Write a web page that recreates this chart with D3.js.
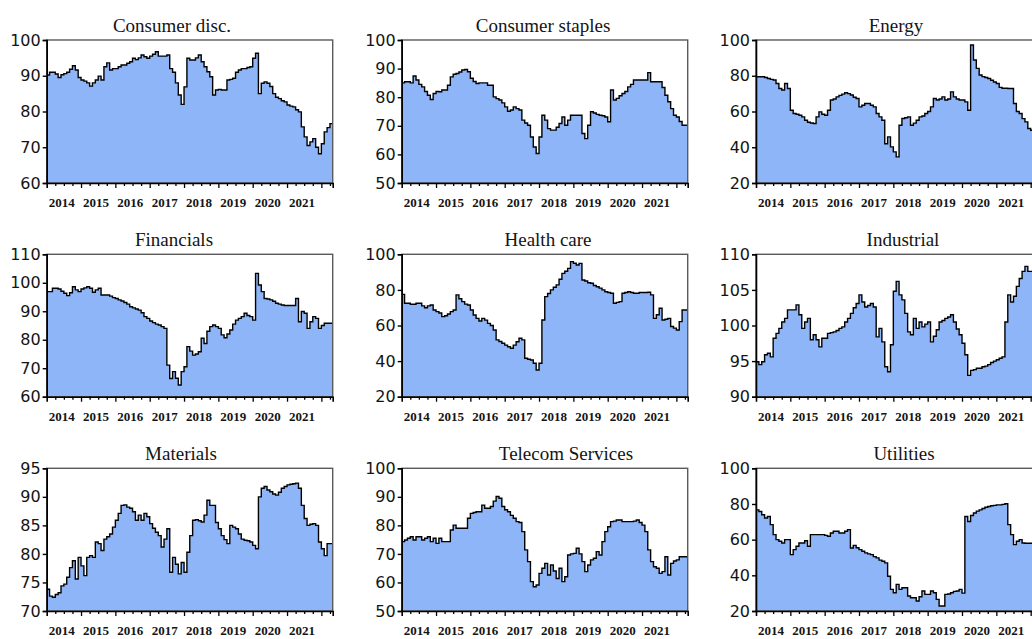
<!DOCTYPE html>
<html>
<head>
<meta charset="utf-8">
<script src="https://cdn.jsdelivr.net/npm/d3@7"></script>
<style>
  html, body { margin: 0; padding: 0; background: #fff; }
  svg { display: block; }
</style>
</head>
<body>
<svg id="chart" width="1032" height="639"></svg>
<script>
// Monthly observations, Jan 2014 through Apr 2022
const startYear = 2014;
const monthCount = 100;
const yearLabels = ["2014", "2015", "2016", "2017", "2018", "2019", "2020", "2021"];

const sectorNames = [
  "Consumer disc.", "Consumer staples", "Energy",
  "Financials", "Health care", "Industrial",
  "Materials", "Telecom Services", "Utilities"
];

const consumerDisc = [
  90.2, 91, 91, 90.5, 89.5, 90.3, 90.6, 91, 91.8, 92.8, 91.6, 89.5,
  88.8, 88.5, 88, 87.1, 88, 88.8, 89.9, 88.8, 92.5, 93.6, 91.6, 92,
  92, 92.5, 93, 93, 93.5, 93.9, 94.9, 94.5, 95, 95.8, 95.3, 94.9,
  95.5, 96, 96.7, 95.5, 95.5, 95.5, 95.8, 92, 91, 88, 84.6, 82,
  86.9, 94.9, 94.4, 94.4, 95, 95.8, 93.9, 92.5, 91.1, 89.7, 84.6, 86,
  86.2, 86, 86, 88.8, 89, 89.3, 91, 91.6, 92, 92, 92.3, 92.5,
  94.9, 96.3, 85, 87.9, 88.3, 87.9, 87, 85, 84, 83.6, 83, 82.7,
  81.8, 81.5, 81.3, 80.5, 79.9, 75.7, 72.9, 70.5, 71.5, 72.4, 70, 68.2,
  71, 74.3, 75.5, 76.6
];

const consumerStaples = [
  85, 85.4, 85.4, 85, 87.4, 86, 84.5, 83.6, 82, 80.7, 79.2, 81.3,
  82, 81.9, 82.5, 82.5, 84.2, 87.1, 88, 88.3, 88.8, 89.5, 89.7, 88.9,
  86.6, 85.5, 84.8, 85, 85, 85, 84.2, 84.2, 80.1, 79.5, 79, 78,
  76.6, 75.1, 75.5, 76.6, 76, 75.5, 72, 71, 70.2, 66.1, 62.6, 60.3,
  66.1, 73.7, 72, 69, 68.5, 68.5, 69.5, 70.8, 73.1, 70.2, 72, 73.7,
  73.7, 73.7, 73.7, 67.3, 65.5, 70.2, 74.9, 74.5, 74, 73.7, 73.5, 73.1,
  71.4, 82.5, 79, 79.6, 80.5, 81.3, 82, 83.6, 84.5, 86, 86, 86,
  86, 86, 88.6, 85.4, 85.4, 85.4, 85.4, 83.4, 80.7, 78.4, 76, 73.7,
  73.1, 71.5, 70.2, 70.2
];

const energy = [
  79.4, 79.4, 79.4, 79, 78.5, 78, 77.6, 75.7, 72.9, 72, 75.7, 72.9,
  60.7, 58.9, 58.5, 57.9, 57, 55.1, 54, 53.6, 53.3, 57, 59.8, 58.5,
  57.9, 60.7, 66.4, 67, 68.2, 69, 69.7, 70.5, 70, 69.2, 68, 67.3,
  62.6, 63.5, 64.5, 64.5, 63.5, 62.6, 58.9, 57, 55.1, 42, 45.8, 40.2,
  37.4, 34.6, 52.3, 56.1, 56.5, 57, 52.3, 53.5, 55.1, 57, 57.5, 58.9,
  60, 62.6, 67.3, 66.4, 67, 68.2, 66.4, 67, 71, 68.2, 67, 66.4,
  66.4, 65.4, 60.7, 97.2, 88.8, 84.1, 80.4, 79.5, 79, 78.5, 77.5, 76.5,
  75.7, 73.5, 73, 73, 72.9, 72.9, 64.5, 60, 58.9, 56, 54.2, 50.5,
  49.5, 51.8, 52, 52
];

const financials = [
  96.9, 96.9, 98.1, 98.1, 97.8, 97, 96.3, 95.5, 96.5, 98.6, 97.5, 96.9,
  97.8, 98.2, 98.6, 98.1, 96.7, 97.5, 98.1, 95.7, 95.7, 95.7, 95.3, 94.8,
  94.5, 94, 93.6, 93.1, 92.5, 91.6, 91.2, 90.8, 90.4, 89.5, 88.1, 87.5,
  86.6, 86, 85.5, 85.2, 84.6, 84, 71.1, 66.4, 68.8, 66.5, 64.1, 68.8,
  70.5, 77.6, 76, 74.6, 75, 75.8, 80.5, 78.7, 83, 84.6, 85.2, 84.6,
  84, 81.7, 80.7, 82, 83.4, 85.5, 86.9, 87.5, 88.1, 89.3, 88.5, 88.1,
  86.9, 103.3, 99.2, 96.9, 94.5, 94.3, 94, 93.5, 92.8, 92.5, 92.2, 92,
  92, 92, 92, 94.5, 86.3, 89.9, 89.3, 84, 86.3, 88.1, 87.5, 84,
  85, 85.8, 85.8, 85.8
];

const healthCare = [
  77.5, 72.5, 72.5, 71.9, 71.9, 72.5, 72.5, 71, 70, 71, 71.5, 68.7,
  67.8, 67, 65, 65.5, 66.5, 67.8, 68.7, 77.2, 75, 73.4, 72, 71.5,
  68.7, 65.9, 64, 62.5, 64, 63, 61.2, 60, 57.5, 51.9, 51, 50,
  49, 48.1, 47.2, 49, 50.9, 52.8, 51.9, 41.6, 41, 40.6, 38.8, 35,
  38.8, 63.1, 76.2, 78, 80, 81.5, 82.8, 86, 89.3, 90.5, 92.1, 95.9,
  95, 94, 94.9, 85.6, 85, 84, 83.7, 82.5, 81.8, 81, 80, 79,
  78.5, 78.1, 72.5, 73, 73.4, 78.1, 78.5, 79, 78.5, 78.1, 78.1, 78.5,
  78.5, 78.5, 78.7, 77.2, 64, 66, 69.7, 63.1, 63.5, 64, 59.4, 58.5,
  57.5, 62.2, 68.7, 68.7
];

const industrial = [
  94.9, 94.5, 94.9, 95.9, 96.1, 95.6, 98.2, 98.9, 99.6, 100.5, 101, 102.2,
  102.2, 102.2, 102.9, 101.5, 99.6, 100.5, 101, 98, 98.7, 98, 97, 98.2,
  98.2, 98.9, 99, 99.1, 99.3, 99.6, 99.8, 100.5, 101, 101.7, 102.5, 103.1,
  104.3, 103.3, 102.6, 102.8, 103.1, 102.6, 98.4, 99.6, 97.7, 94.2, 93.5, 97.3,
  104.8, 106.2, 104.3, 103.6, 101.7, 99.1, 98.7, 101, 99.6, 100.5, 99.8, 100.2,
  100.5, 97.7, 98.5, 99.4, 100.5, 100.7, 101, 101.2, 101.5, 100.5, 99.5, 98.7,
  97.5, 95.9, 93, 93.7, 93.8, 94, 94, 94.2, 94.3, 94.5, 94.8, 95,
  95.2, 95.4, 95.6, 100.5, 104.3, 103.3, 104.1, 105.5, 106.6, 107.6, 108.3, 107.6,
  107.6, 107, 107, 107
];

const materials = [
  73.8, 72.6, 72.4, 72.9, 73.2, 74.4, 74.7, 75.9, 77.6, 78.8, 75.6, 79.4,
  77.9, 76.2, 79.4, 79.7, 79.4, 82.1, 81.8, 80.6, 82.6, 83, 83.5, 84.7,
  85.9, 87.1, 88.5, 88.6, 88.2, 88, 87.4, 85.9, 86.8, 85.9, 87.1, 86.5,
  85.3, 84.5, 83.8, 83.2, 81.2, 82.6, 84.4, 76.8, 79.4, 78.2, 76.5, 78.5,
  76.8, 80.3, 83.2, 85.9, 86, 85.8, 85.6, 86.8, 89.4, 88.5, 88.5, 85.5,
  84.4, 83.2, 82.5, 81.8, 85, 84.7, 84.4, 83.5, 82.6, 82.4, 82.3, 82.1,
  81.5, 80.9, 90, 91.5, 91.8, 91.2, 90.9, 90.5, 90.3, 90.8, 91.5, 91.8,
  92.1, 92.2, 92.3, 92.4, 91.5, 88.5, 86.2, 85, 85.2, 85.3, 85, 82.1,
  80.9, 79.7, 81.8, 81.8
];

const telecomServices = [
  74.3, 74.9, 75.5, 76, 74.9, 76, 76, 74.9, 75.5, 76, 74.3, 75.5,
  73.7, 75.5, 74.3, 74.3, 74.3, 78.4, 80.1, 79, 79, 79, 79, 82.5,
  84.2, 84.5, 84.8, 84.8, 87.1, 86, 86, 86.6, 88.5, 90.1, 89.5, 86.6,
  85.5, 84.8, 83.5, 82.5, 81.3, 81, 77.8, 71.4, 67.3, 60.3, 58.5, 59.1,
  63.2, 65, 66.7, 62.6, 66.1, 64, 61.4, 65, 60.3, 62, 69.6, 70,
  70.2, 72, 70, 67.3, 63.8, 66.1, 67.9, 68.5, 70.8, 69.6, 74.3, 77.8,
  79.5, 81.3, 81.5, 81.9, 81.9, 81.3, 81.3, 81.3, 81.3, 81.5, 81.9, 81,
  80.1, 77.8, 71.4, 67.3, 65.5, 65, 63.2, 63.8, 69, 62.6, 66.7, 67.5,
  67.9, 69, 69, 69
];

const utilities = [
  76.7, 75.8, 74, 72.1, 73, 68.4, 62.8, 60, 59.1, 58.1, 60, 60,
  51.6, 54.4, 56.3, 58.1, 58.1, 59.4, 56.3, 62.8, 62.8, 62.8, 62.8, 62.8,
  62.4, 61.9, 63.7, 64.7, 64.7, 63.7, 63.7, 64.7, 65.6, 55.3, 56.8, 55.5,
  54.4, 53.5, 52.6, 52, 51.6, 50.5, 49.8, 48.5, 47.9, 47, 39.5, 32.1,
  30.2, 34.9, 32.1, 33, 33, 28.4, 27.4, 27.4, 25.6, 28, 31.2, 29.3,
  29.3, 31.2, 30.2, 26.5, 22.8, 22.8, 29.3, 29.5, 30.2, 31, 31.2, 32.1,
  30, 73, 70.2, 73.5, 74.9, 76, 76.7, 77.5, 78.2, 78.6, 79, 79.2,
  79.5, 79.5, 79.8, 80.1, 68.4, 62.8, 57.2, 59.1, 60, 58.1, 58, 58,
  58, 58, 58, 58
];

const seriesValues = [
  consumerDisc, consumerStaples, energy,
  financials, healthCare, industrial,
  materials, telecomServices, utilities
];

// Value-axis ranges and tick steps per panel
const yDomains = [[60, 100], [50, 100], [20, 100], [60, 110], [20, 100], [90, 110], [70, 95], [50, 100], [20, 100]];
const yTickSteps = [10, 10, 20, 10, 20, 5, 5, 10, 20];

// ---- layout ----
const colLeft = [46.7, 401.7, 756];
const plotW = 286;
const rowTop = [40, 254.3, 468.3];
const rowBottom = [183, 396.7, 611];
const titleCenters = [[172, 543, 896], [174, 548, 903], [181, 566, 904]];
const xDomain = [2014, 2022.33];

const fillColor = "#8db5f8";
const ink = "#141414";

const months = d3.range(monthCount).map(i => startYear + i / 12);

const svg = d3.select("#chart");
const defs = svg.append("defs");

seriesValues.forEach((values, idx) => {
  const row = Math.floor(idx / 3), col = idx % 3;
  const left = colLeft[col], right = left + plotW;
  const top = rowTop[row], bottom = rowBottom[row];

  const x = d3.scaleLinear().domain(xDomain).range([left, right]);
  const y = d3.scaleLinear().domain(yDomains[idx]).range([bottom, top]);

  const pts = values.map((v, i) => ({ t: months[i], v }));
  pts.push({ t: xDomain[1], v: values[values.length - 1] });

  const clipId = "clip" + idx;
  defs.append("clipPath").attr("id", clipId)
    .append("rect").attr("x", left).attr("y", top)
    .attr("width", right - left).attr("height", bottom - top);

  const g = svg.append("g");

  // filled area under the series
  g.append("path")
    .datum(pts)
    .attr("clip-path", `url(#${clipId})`)
    .attr("fill", fillColor)
    .attr("d", d3.area()
      .x(d => x(d.t))
      .y0(y(yDomains[idx][0]))
      .y1(d => y(d.v))
      .curve(d3.curveStepAfter));

  // series line
  g.append("path")
    .datum(pts)
    .attr("clip-path", `url(#${clipId})`)
    .attr("fill", "none")
    .attr("stroke", "#000")
    .attr("stroke-width", 1.4)
    .attr("d", d3.line()
      .x(d => x(d.t))
      .y(d => y(d.v))
      .curve(d3.curveStepAfter));

  // frame (top and right edges)
  g.append("rect")
    .attr("x", left).attr("y", top)
    .attr("width", right - left).attr("height", bottom - top)
    .attr("fill", "none").attr("stroke", "#5a5a5a").attr("stroke-width", 1.4);

  // left axis
  const [lo, hi] = yDomains[idx];
  const step = yTickSteps[idx];
  const yAxis = g.append("g")
    .attr("transform", `translate(${left},0)`)
    .call(d3.axisLeft(y)
      .tickValues(d3.range(lo, hi + step / 2, step))
      .tickSize(4)
      .tickPadding(2)
      .tickFormat(d3.format("d")));
  yAxis.select(".domain").attr("stroke", "#000").attr("stroke-width", 1.6);
  yAxis.selectAll(".tick line").attr("stroke", "#000").attr("stroke-width", 1.4);
  yAxis.selectAll(".tick text")
    .attr("fill", ink)
    .style("font-family", "'DejaVu Sans', Verdana, sans-serif")
    .style("font-size", "16px");

  // bottom axis: quarterly minor ticks, longer ticks at each year
  const quarterTicks = d3.range(startYear * 4 + 1, Math.floor(xDomain[1] * 4) + 1)
    .map(q => q / 4).filter(q => q % 1 !== 0);
  const xAxisMinor = g.append("g")
    .attr("transform", `translate(0,${bottom})`)
    .call(d3.axisBottom(x).tickValues(quarterTicks).tickSize(3).tickFormat(""));
  xAxisMinor.select(".domain").remove();
  xAxisMinor.selectAll(".tick line").attr("stroke", "#000").attr("stroke-width", 1.3);

  const yearTicks = yearLabels.map(Number).concat([2022]).filter(t => t > xDomain[0]);
  const xAxisMajor = g.append("g")
    .attr("transform", `translate(0,${bottom})`)
    .call(d3.axisBottom(x).tickValues(yearTicks).tickSize(5).tickFormat(""));
  xAxisMajor.select(".domain").attr("stroke", "#000").attr("stroke-width", 1.6);
  xAxisMajor.selectAll(".tick line").attr("stroke", "#000").attr("stroke-width", 1.3);

  // year labels
  g.selectAll("text.year")
    .data(yearLabels)
    .join("text")
    .attr("class", "year")
    .attr("x", d => x(+d) + 2)
    .attr("y", bottom + 24)
    .attr("text-anchor", "start")
    .attr("fill", ink)
    .style("font-family", "'Liberation Serif', 'Times New Roman', serif")
    .style("font-weight", "bold")
    .style("font-size", "13px")
    .text(d => d);

  // panel title
  g.append("text")
    .attr("x", titleCenters[row][col])
    .attr("y", top - 8.5)
    .attr("text-anchor", "middle")
    .attr("fill", ink)
    .style("font-family", "'Liberation Serif', 'Times New Roman', serif")
    .style("font-size", "19px")
    .text(sectorNames[idx]);
});
</script>
</body>
</html>
